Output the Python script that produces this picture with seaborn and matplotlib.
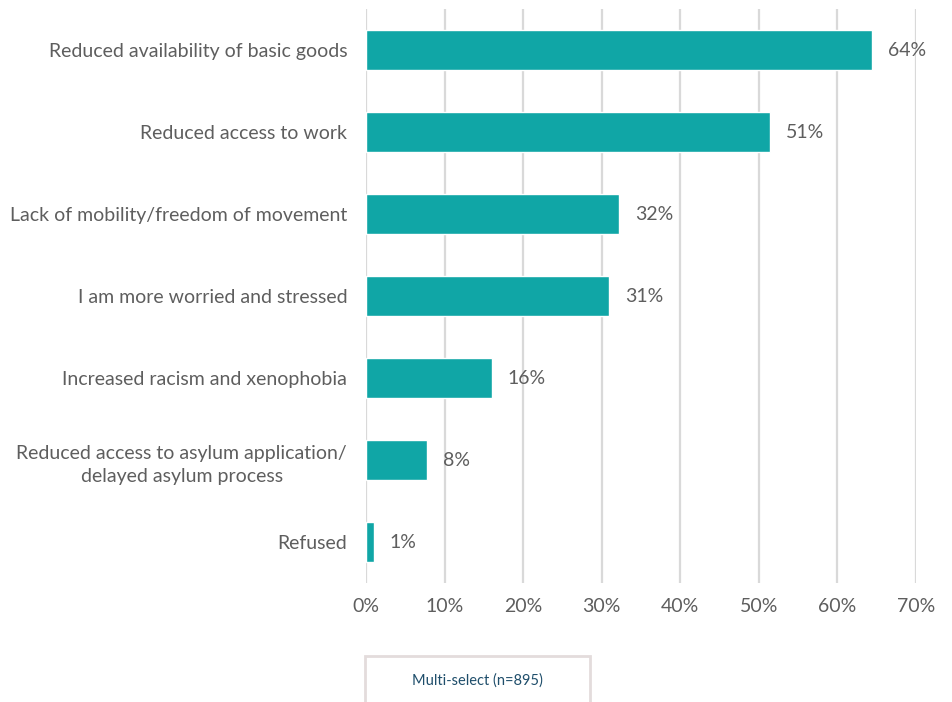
import matplotlib
matplotlib.use("Agg")
import matplotlib.pyplot as plt
import seaborn as sns
import pandas as pd
from matplotlib.patches import Rectangle

categories = [
    "Reduced availability of basic goods",
    "Reduced access to work",
    "Lack of mobility/freedom of movement",
    "I am more worried and stressed",
    "Increased racism and xenophobia",
    "Reduced access to asylum application/\ndelayed asylum process",
    "Refused",
]
values = [64.4, 51.4, 32.2, 30.9, 16.0, 7.8, 1.0]
value_labels = ["64%", "51%", "32%", "31%", "16%", "8%", "1%"]
x_ticks = [0, 10, 20, 30, 40, 50, 60, 70]
x_tick_labels = ["0%", "10%", "20%", "30%", "40%", "50%", "60%", "70%"]
note = "Multi-select (n=895)"

sns.set_theme(style="white")
plt.rcParams["font.family"] = ["Lato", "DejaVu Sans"]

TEAL = "#10A6A6"
TEXT = "#5E5E5E"
GRID = "#D9D9D9"

df = pd.DataFrame({"category": categories, "value": values})

fig = plt.figure(figsize=(9.53, 7.02), dpi=100)
ax = fig.add_axes([0.384, 0.1695, 0.577, 0.8175])

sns.barplot(data=df, y="category", x="value", orient="h", color=TEAL,
            saturation=1, width=0.49, ax=ax)

ax.set_xlim(0, 70)
ax.set_ylim(len(categories) - 0.5, -0.5)
ax.set_xticks(x_ticks)
ax.set_xticklabels(x_tick_labels)
ax.set_xlabel("")
ax.set_ylabel("")

for xv in x_ticks:
    ax.axvline(xv, color=GRID, lw=1.6, zorder=0)

for s in ax.spines.values():
    s.set_visible(False)

ax.tick_params(axis="x", length=0, pad=11, labelsize=14, labelcolor=TEXT)
ax.tick_params(axis="y", length=0, pad=13.5, labelsize=14, labelcolor=TEXT)
for lbl in ax.get_yticklabels():
    lbl.set_multialignment("center")
    lbl.set_linespacing(1.45)

for bar, txt in zip(ax.patches, value_labels):
    w = bar.get_width()
    yc = bar.get_y() + bar.get_height() / 2
    ax.annotate(txt, (w, yc), xytext=(11.5, 0), textcoords="offset points",
                ha="left", va="center", fontsize=14, color=TEXT)

# footnote box under the axis
box = Rectangle((365 / 953, -0.01), (590 - 365) / 953, (702 - 656) / 702 + 0.01,
                transform=fig.transFigure, fill=False, edgecolor="#E3DCDC", lw=2)
fig.patches.append(box)
fig.text(477 / 953, 1 - 681 / 702, note, ha="center", va="center",
         fontsize=10.5, color="#1F4E6B")

fig.savefig("out.png", dpi=100)
